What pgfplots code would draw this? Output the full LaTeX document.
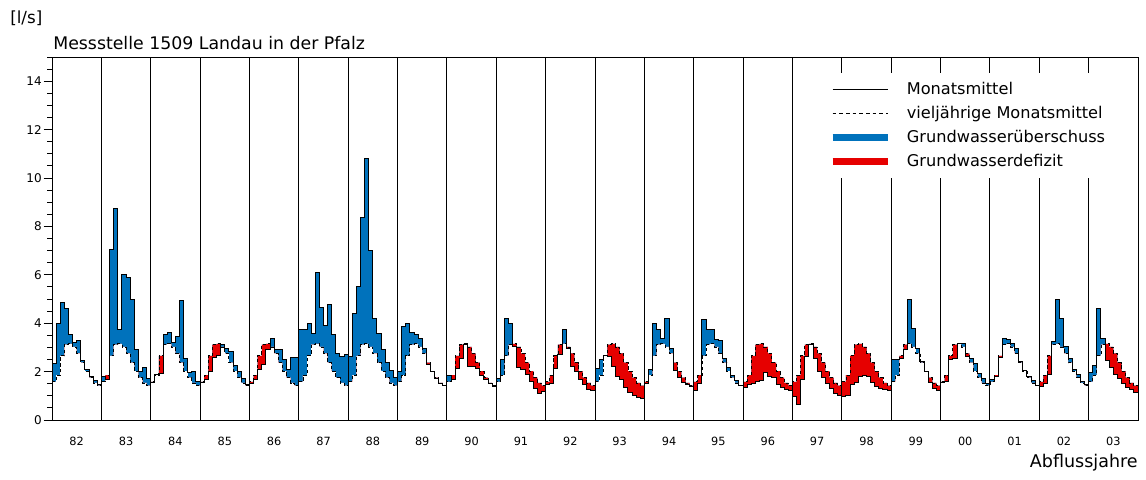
\documentclass[border=0pt]{standalone}
\usepackage{pgfplots}
\pgfplotsset{compat=1.18}
\usepackage{pgfplotstable}
\usepackage{fontspec}
\setmainfont{DejaVu Sans}
\definecolor{gwblue}{RGB}{0,114,188}
\definecolor{gwred}{RGB}{230,0,0}
% lt = vieljaehriges Monatsmittel, a = Monatsmittel (Nov..Okt, Abflussjahre 1982-2003)
\pgfplotstableread[row sep=\\]{
lt a \\
1.58 2.35 \\ 1.85 4.00 \\ 2.65 4.85 \\ 3.12 4.60 \\ 3.15 3.55 \\ 3.02 3.20 \\ 2.75 3.30 \\ 2.37 2.45 \\ 2.02 2.10 \\ 1.75 1.80 \\ 1.53 1.62 \\ 1.42 1.45 \\
1.58 1.80 \\ 1.85 1.67 \\ 2.65 7.05 \\ 3.12 8.75 \\ 3.15 3.75 \\ 3.02 6.00 \\ 2.75 5.90 \\ 2.37 5.00 \\ 2.02 2.90 \\ 1.75 2.00 \\ 1.53 2.15 \\ 1.42 1.72 \\
1.58 1.55 \\ 1.85 1.90 \\ 2.65 1.93 \\ 3.12 3.55 \\ 3.15 3.60 \\ 3.02 3.20 \\ 2.75 3.45 \\ 2.37 4.95 \\ 2.02 2.55 \\ 1.75 1.95 \\ 1.53 2.00 \\ 1.42 1.60 \\
1.58 1.55 \\ 1.85 1.66 \\ 2.65 2.00 \\ 3.12 2.60 \\ 3.15 2.65 \\ 3.02 3.10 \\ 2.75 2.95 \\ 2.37 2.85 \\ 2.02 2.25 \\ 1.75 2.00 \\ 1.53 1.70 \\ 1.42 1.47 \\
1.58 1.52 \\ 1.85 1.66 \\ 2.65 2.07 \\ 3.12 2.28 \\ 3.15 2.90 \\ 3.02 3.38 \\ 2.75 2.93 \\ 2.37 2.90 \\ 2.02 2.51 \\ 1.75 2.07 \\ 1.53 2.60 \\ 1.42 2.60 \\
1.58 3.76 \\ 1.85 3.76 \\ 2.65 3.98 \\ 3.12 3.56 \\ 3.15 6.08 \\ 3.02 4.63 \\ 2.75 3.92 \\ 2.37 4.79 \\ 2.02 3.52 \\ 1.75 2.76 \\ 1.53 2.62 \\ 1.42 2.69 \\
1.58 2.62 \\ 1.85 4.42 \\ 2.65 5.50 \\ 3.12 8.36 \\ 3.15 10.80 \\ 3.02 7.00 \\ 2.75 4.20 \\ 2.37 3.56 \\ 2.02 2.90 \\ 1.75 2.37 \\ 1.53 2.03 \\ 1.42 1.76 \\
1.58 2.00 \\ 1.85 3.85 \\ 2.65 3.98 \\ 3.12 3.62 \\ 3.15 3.55 \\ 3.02 3.38 \\ 2.75 2.97 \\ 2.37 2.30 \\ 2.02 2.00 \\ 1.75 1.70 \\ 1.53 1.50 \\ 1.42 1.42 \\
1.58 1.82 \\ 1.85 1.68 \\ 2.65 2.14 \\ 3.12 2.55 \\ 3.15 3.10 \\ 3.02 2.21 \\ 2.75 2.21 \\ 2.37 2.14 \\ 2.02 1.85 \\ 1.75 1.68 \\ 1.53 1.50 \\ 1.42 1.40 \\
1.58 1.70 \\ 1.85 2.50 \\ 2.65 4.20 \\ 3.12 4.00 \\ 3.15 3.05 \\ 3.02 2.15 \\ 2.75 2.07 \\ 2.37 1.86 \\ 2.02 1.60 \\ 1.75 1.30 \\ 1.53 1.10 \\ 1.42 1.18 \\
1.58 1.45 \\ 1.85 1.52 \\ 2.65 2.14 \\ 3.12 2.69 \\ 3.15 3.75 \\ 3.02 2.95 \\ 2.75 2.20 \\ 2.37 2.00 \\ 2.02 1.66 \\ 1.75 1.45 \\ 1.53 1.28 \\ 1.42 1.23 \\
1.58 2.14 \\ 1.85 2.50 \\ 2.65 2.65 \\ 3.12 2.62 \\ 3.15 2.20 \\ 3.02 1.80 \\ 2.75 1.66 \\ 2.37 1.35 \\ 2.02 1.15 \\ 1.75 1.00 \\ 1.53 0.95 \\ 1.42 0.88 \\
1.58 1.50 \\ 1.85 2.10 \\ 2.65 4.00 \\ 3.12 3.75 \\ 3.15 3.38 \\ 3.02 4.20 \\ 2.75 2.95 \\ 2.37 2.05 \\ 2.02 1.75 \\ 1.75 1.55 \\ 1.53 1.45 \\ 1.42 1.38 \\
1.58 1.20 \\ 1.85 1.52 \\ 2.65 4.15 \\ 3.12 3.75 \\ 3.15 3.72 \\ 3.02 3.32 \\ 2.75 3.30 \\ 2.37 2.55 \\ 2.02 2.15 \\ 1.75 1.82 \\ 1.53 1.65 \\ 1.42 1.42 \\
1.58 1.35 \\ 1.85 1.45 \\ 2.65 1.50 \\ 3.12 1.60 \\ 3.15 1.65 \\ 3.02 1.95 \\ 2.75 1.80 \\ 2.37 1.75 \\ 2.02 1.45 \\ 1.75 1.35 \\ 1.53 1.25 \\ 1.42 1.20 \\
1.58 0.97 \\ 1.85 0.66 \\ 2.65 1.66 \\ 3.12 2.62 \\ 3.15 3.10 \\ 3.02 2.55 \\ 2.75 2.00 \\ 2.37 1.75 \\ 2.02 1.50 \\ 1.75 1.30 \\ 1.53 1.10 \\ 1.42 1.00 \\
1.58 0.97 \\ 1.85 1.00 \\ 2.65 1.45 \\ 3.12 1.55 \\ 3.15 1.80 \\ 3.02 1.85 \\ 2.75 1.80 \\ 2.37 1.55 \\ 2.02 1.40 \\ 1.75 1.30 \\ 1.53 1.25 \\ 1.42 1.20 \\
1.58 2.50 \\ 1.85 2.50 \\ 2.65 2.55 \\ 3.12 2.90 \\ 3.15 5.00 \\ 3.02 3.80 \\ 2.75 2.95 \\ 2.37 2.40 \\ 2.02 2.00 \\ 1.75 1.55 \\ 1.53 1.32 \\ 1.42 1.20 \\
1.58 1.55 \\ 1.85 1.60 \\ 2.65 2.49 \\ 3.12 2.55 \\ 3.15 3.15 \\ 3.02 3.15 \\ 2.75 2.62 \\ 2.37 2.55 \\ 2.02 2.35 \\ 1.75 1.93 \\ 1.53 1.73 \\ 1.42 1.52 \\
1.58 1.68 \\ 1.85 1.80 \\ 2.65 2.60 \\ 3.12 3.38 \\ 3.15 3.34 \\ 3.02 3.15 \\ 2.75 2.95 \\ 2.37 2.40 \\ 2.02 2.05 \\ 1.75 1.78 \\ 1.53 1.62 \\ 1.42 1.42 \\
1.58 1.38 \\ 1.85 1.52 \\ 2.65 1.86 \\ 3.12 3.24 \\ 3.15 5.00 \\ 3.02 4.20 \\ 2.75 3.05 \\ 2.37 2.55 \\ 2.02 2.10 \\ 1.75 1.86 \\ 1.53 1.60 \\ 1.42 1.45 \\
1.58 1.98 \\ 1.85 2.25 \\ 2.65 4.62 \\ 3.12 3.35 \\ 3.15 2.45 \\ 3.02 2.15 \\ 2.75 1.90 \\ 2.37 1.70 \\ 2.02 1.50 \\ 1.75 1.35 \\ 1.53 1.27 \\ 1.42 1.12 \\
1.42 1.12 \\
}\gw
\begin{document}
\begin{tikzpicture}
\path[use as bounding box] (-31.2pt,-35.4pt) rectangle (656.4pt,252pt);
\begin{axis}[
  name=ax,
  at={(0pt,0pt)}, anchor=south west, scale only axis,
  width=651.6pt, height=217.8pt,
  xmin=0, xmax=264, ymin=0, ymax=15,
  axis on top,
  axis line style={black, line width=0.6pt},
  /pgf/number format/assume math mode=true,
  xtick={6,18,...,258},
  xticklabels={82,83,84,85,86,87,88,89,90,91,92,93,94,95,96,97,98,99,00,01,02,03},
  xtick style={draw=none},
  xtick pos=bottom,
  xticklabel style={font=\fontsize{6.8}{7}\selectfont, anchor=base, yshift=-10pt},
  extra x ticks={12,24,...,252},
  extra x tick labels={},
  extra x tick style={grid=major, major grid style={black, line width=0.6pt}},
  ytick={0,2,...,14},
  minor ytick={0.5,1,...,15},
  ytick pos=left,
  tick align=outside,
  major tick length=5pt, minor tick length=3pt,
  ytick style={black, line width=0.6pt},
  yticklabel style={font=\fontsize{7.2}{8}\selectfont, inner sep=1pt},
  legend style={at={(rel axis cs:0.7017,0.956)}, anchor=north west, draw=none, fill=white,
    font=\fontsize{9.7}{12}\selectfont, inner xsep=9pt, inner ysep=4pt, row sep=2.9pt,
    nodes={inner sep=1pt, text height=7.5pt, text depth=2pt}, cells={anchor=west}},
  /tikz/every odd column/.append style={column sep=8.5pt},
  legend image code/.code={\draw[#1] (0pt,0pt) -- (33pt,0pt);},
]
% blue: area under max(a,lt); red: area under lt; white: area under min(a,lt)
\addplot[fill=gwblue, draw=none, const plot mark left, forget plot]
  table[x expr=\coordindex, y expr={max(\thisrow{a},\thisrow{lt})}] {\gw} \closedcycle;
\addplot[fill=gwred, draw=none, const plot mark left, forget plot]
  table[x expr=\coordindex, y=lt] {\gw} \closedcycle;
\addplot[fill=white, draw=none, const plot mark left, forget plot]
  table[x expr=\coordindex, y expr={min(\thisrow{a},\thisrow{lt})}] {\gw} \closedcycle;
\addplot[black, line width=0.5pt, dash pattern=on 2pt off 1.5pt, const plot mark left, forget plot]
  table[x expr=\coordindex, y=lt] {\gw};
\addplot[black, line width=0.6pt, const plot mark left, forget plot]
  table[x expr=\coordindex, y=a] {\gw};
\addlegendimage{black, line width=0.6pt}
\addlegendentry{Monatsmittel}
\addlegendimage{black, line width=0.5pt, dash pattern=on 2.2pt off 1.8pt}
\addlegendentry{vieljährige Monatsmittel}
\addlegendimage{gwblue, line width=4pt}
\addlegendentry{Grundwasserüberschuss}
\addlegendimage{gwred, line width=4pt}
\addlegendentry{Grundwasserdefizit}
\end{axis}
\node[anchor=west, inner sep=0pt, font=\fontsize{10}{12}\selectfont] at ([xshift=-25.2pt, yshift=23.4pt]ax.north west) {[l/s]};
\node[anchor=base west, inner sep=0pt, font=\fontsize{10.4}{12}\selectfont] at ([xshift=0.6pt, yshift=4.5pt]ax.north west) {Messstelle 1509 Landau in der Pfalz};
\node[anchor=base east, inner sep=0pt, font=\fontsize{10.5}{12}\selectfont] at ([yshift=-28.2pt]ax.south east) {Abflussjahre};
\end{tikzpicture}
\end{document}
